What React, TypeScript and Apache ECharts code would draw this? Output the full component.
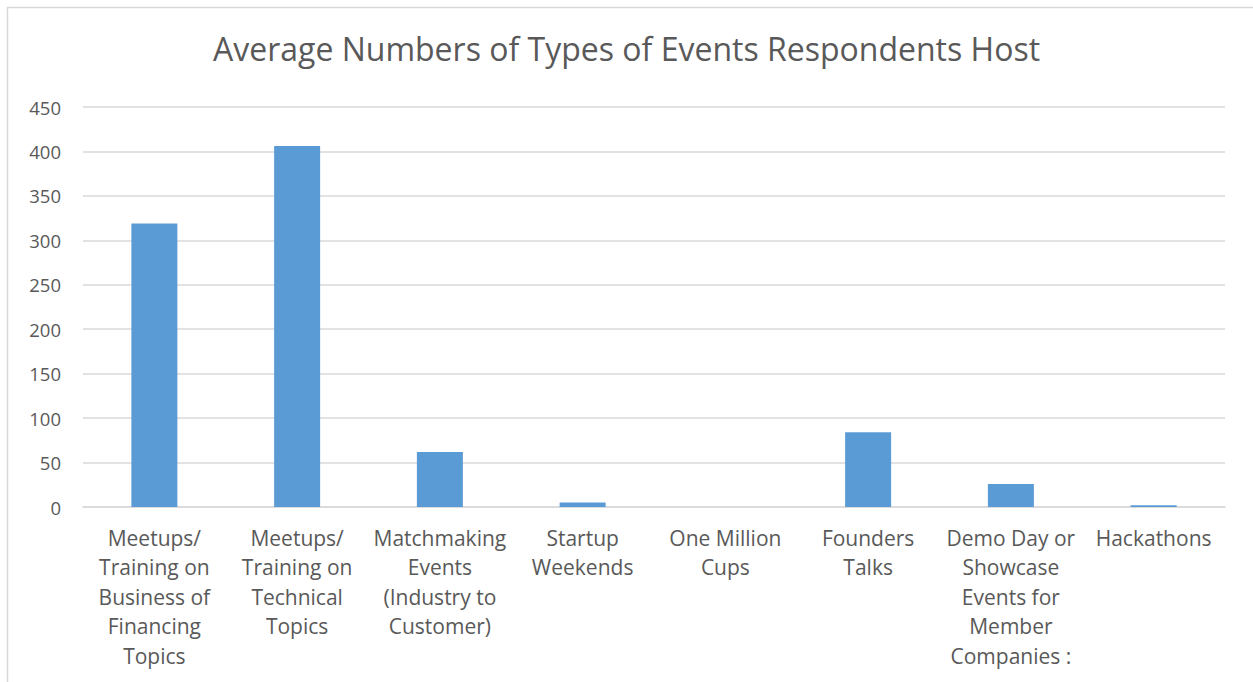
import React, { useEffect, useRef } from "react";
import * as echarts from "echarts";

const categories = [
  "Meetups/\nTraining on\nBusiness of\nFinancing\nTopics",
  "Meetups/\nTraining on\nTechnical\nTopics",
  "Matchmaking\nEvents\n(Industry to\nCustomer)",
  "Startup\nWeekends",
  "One Million\nCups",
  "Founders\nTalks",
  "Demo Day or\nShowcase\nEvents for\nMember\nCompanies :",
  "Hackathons",
];
const values = [319, 406, 62, 5, 0, 84, 26, 2];
const yTicks = { min: 0, max: 450, interval: 50 };
const title = "Average Numbers of Types of Events Respondents Host";

export default function App() {
  const ref = useRef<HTMLDivElement>(null);
  useEffect(() => {
    const chart = echarts.init(ref.current!, null, { renderer: "svg" });
    const font = "'Open Sans', 'Liberation Sans', sans-serif";
    chart.setOption({
      animation: false,
      backgroundColor: "#ffffff",
      title: {
        text: title,
        left: "center",
        top: 27,
        textStyle: { fontFamily: font, fontSize: 32, fontWeight: "normal", color: "#595959" },
      },
      graphic: [
        {
          type: "rect",
          shape: { x: 7.5, y: 7.5, width: 1300, height: 700 },
          style: { fill: "none", stroke: "#d9d9d9", lineWidth: 1.5 },
          silent: true,
        },
      ],
      grid: { left: 83, right: 28, top: 107, bottom: 175 },
      xAxis: {
        type: "category",
        data: categories,
        axisLine: { lineStyle: { color: "#d9d9d9", width: 1.5 } },
        axisTick: { show: false },
        axisLabel: {
          interval: 0,
          margin: 16,
          fontFamily: font,
          fontSize: 21,
          lineHeight: 29.5,
          color: "#595959",
          align: "center",
        },
      },
      yAxis: {
        type: "value",
        min: yTicks.min,
        max: yTicks.max,
        interval: yTicks.interval,
        axisLine: { show: false },
        axisTick: { show: false },
        splitLine: { lineStyle: { color: "#d9d9d9", width: 1.5 } },
        axisLabel: { margin: 22, fontFamily: font, fontSize: 18.5, color: "#595959" },
      },
      series: [
        {
          type: "bar",
          data: values,
          barWidth: 46,
          itemStyle: { color: "#5b9bd5" },
        },
      ],
    });
    return () => chart.dispose();
  }, []);
  return (
    <div
      ref={ref}
      style={{ position: "fixed", left: 0, top: 0, width: 1253, height: 682 }}
    />
  );
}
